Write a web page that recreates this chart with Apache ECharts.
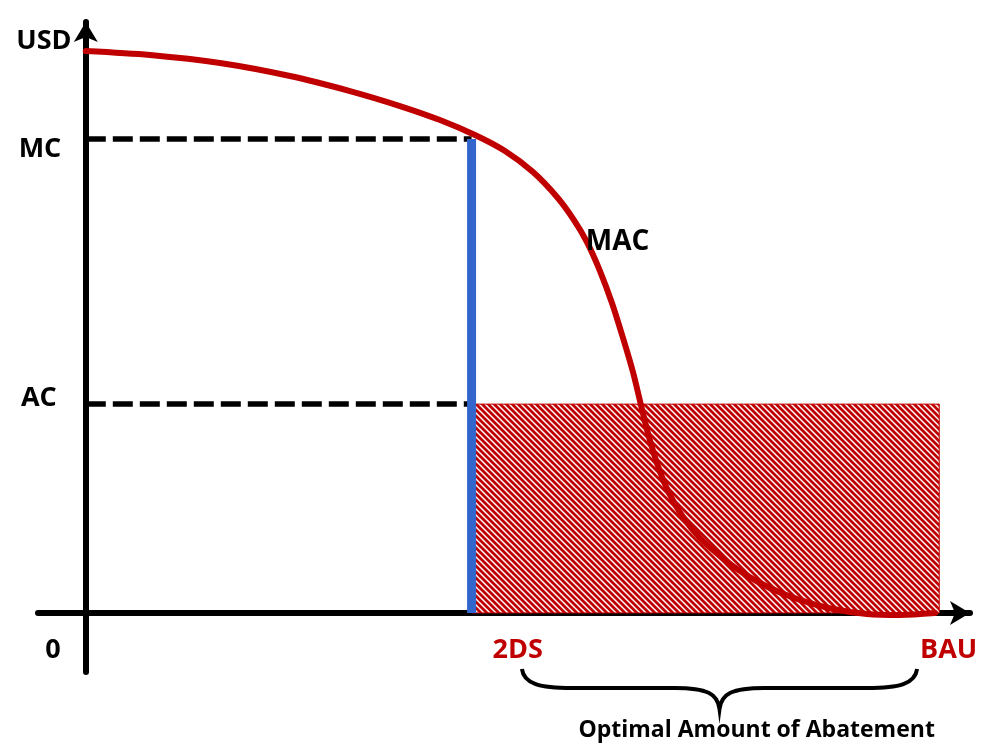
<!DOCTYPE html>
<html>
<head>
<meta charset="utf-8">
<script src="https://cdn.jsdelivr.net/npm/echarts@6/dist/echarts.min.js"></script>
<style>
html,body{margin:0;padding:0;background:#fff;}
#chart{width:982px;height:744px;}
</style>
</head>
<body>
<div id="chart"></div>
<script>
// ---- data ----
const macX = [0, 7.52, 15.72, 23.93, 30.95, 36.81, 41.50, 45.60, 49.12, 52.40, 55.21, 57.20, 58.72, 60.25, 61.65, 62.94, 64.11, 65.05, 65.99, 67.04, 68.33, 69.97, 71.96, 74.31, 77.00, 80.16, 83.68, 87.55, 91.53, 95.40, 99.50];
const macY = [99.84, 99.13, 97.71, 95.40, 92.73, 90.07, 87.58, 84.91, 82.07, 78.34, 73.90, 69.81, 65.90, 60.75, 55.06, 48.85, 42.80, 36.94, 31.25, 26.10, 21.30, 17.04, 13.31, 10.11, 7.09, 4.42, 2.29, 0.69, -0.20, -0.37, -0.02];
const twoDS = 45.2;      // abatement level at 2DS
const bau = 100;         // business-as-usual
const mcLevel = 84.2;    // marginal cost
const acLevel = 37.1;    // average cost
const axisLabels = ['USD', 'MC', 'AC', '0'];
const xLabels = ['2DS', 'BAU'];
const curveName = 'MAC';
const braceText = 'Optimal Amount of Abatement';

const RED = '#c00000', BLUE = '#3366cc', FONT = '"Open Sans", "DejaVu Sans", sans-serif';

// hatch pattern
const pc = document.createElement('canvas');
pc.width = 6; pc.height = 6;
const g = pc.getContext('2d');
g.fillStyle = '#ffffff'; g.fillRect(0, 0, 6, 6);
g.strokeStyle = RED; g.lineWidth = 2.8;
g.beginPath();
g.moveTo(-3, -3); g.lineTo(9, 9);
g.moveTo(-9, -3); g.lineTo(3, 9);
g.moveTo(3, -3); g.lineTo(15, 9);
g.stroke();

const chart = echarts.init(document.getElementById('chart'), null, {renderer: 'canvas'});

const labelStyle = (color, size) => ({show: true, position: [0, 0], align: 'center', verticalAlign: 'middle',
  formatter: '{b}', color: color, opacity: 1, textBorderWidth: 0, fontFamily: FONT, fontWeight: 'bold', fontSize: size});

const annotations = [
  {name: axisLabels[0], value: [-4.9, 101.6], label: labelStyle('#000', 27)},
  {name: axisLabels[1], value: [-5.37, 82.4], label: labelStyle('#000', 27)},
  {name: axisLabels[2], value: [-5.5, 38.2], label: labelStyle('#000', 27)},
  {name: axisLabels[3], value: [-3.84, -6.6], label: labelStyle('#000', 27)},
  {name: xLabels[0], value: [50.6, -6.6], label: labelStyle(RED, 27)},
  {name: xLabels[1], value: [101.1, -6.6], label: labelStyle(RED, 27)},
  {name: curveName, value: [62.3, 65.9], label: labelStyle('#000', 28)},
  {name: braceText, value: [78.6, -20.8], label: labelStyle('#000', 23)}
];

const axisCommon = {
  type: 'value',
  axisLine: {show: true, onZero: true, symbol: ['none', 'arrow'], symbolSize: [18, 20], lineStyle: {color: '#000', width: 6}},
  axisTick: {show: false}, axisLabel: {show: false}, splitLine: {show: false}
};

chart.setOption({
  animation: false,
  grid: {left: 38, right: 12, top: 22, bottom: 72},
  xAxis: Object.assign({}, axisCommon, {min: -5.6, max: 103.6}),
  yAxis: Object.assign({}, axisCommon, {min: -10.5, max: 105}),
  series: [
    {
      type: 'custom', name: 'area', z: 1, clip: false,
      data: [[twoDS, 0, bau, acLevel]],
      renderItem: function (params, api) {
        const p0 = api.coord([api.value(0), api.value(3)]);
        const p1 = api.coord([api.value(2), api.value(1)]);
        return {type: 'rect', shape: {x: p0[0], y: p0[1], width: p1[0] - p0[0], height: p1[1] - p0[1]},
          style: {fill: {image: pc, repeat: 'repeat'}, stroke: RED, lineWidth: 1}};
      }
    },
    {type: 'line', name: 'mcDash', z: 2, symbol: 'none', data: [[0, mcLevel], [twoDS, mcLevel]],
      lineStyle: {color: '#000', width: 5.5, type: [20, 7]}},
    {type: 'line', name: 'acDash', z: 2, symbol: 'none', data: [[0, acLevel], [twoDS, acLevel]],
      lineStyle: {color: '#000', width: 5.5, type: [20, 7]}},
    {type: 'line', name: 'twoDS', z: 3, symbol: 'none', data: [[twoDS, 0], [twoDS, mcLevel]],
      lineStyle: {color: BLUE, width: 9}},
    {type: 'line', name: 'MAC', z: 4, symbol: 'none', smooth: 0.3,
      data: macX.map((x, i) => [x, macY[i]]),
      lineStyle: {color: RED, width: 6, cap: 'round', join: 'round'}},
    {type: 'scatter', name: 'labels', z: 6, clip: false, symbolSize: 0, itemStyle: {opacity: 1},
      data: annotations, silent: true},
    {
      type: 'custom', name: 'brace', z: 5, clip: false,
      data: [[51.1, 97.4]],
      renderItem: function (params, api) {
        const a = api.coord([api.value(0), 0]);
        const b = api.coord([api.value(1), 0]);
        const tipY = a[1] + 56, hY = a[1] + 75, pY = a[1] + 96;
        const L = a[0], R = b[0], M = (L + R) / 2;
        const d = 'M' + L + ' ' + tipY +
          ' C' + (L + 2) + ' ' + (hY - 4) + ' ' + (L + 18) + ' ' + hY + ' ' + (L + 50) + ' ' + hY +
          ' L' + (M - 45) + ' ' + hY +
          ' C' + (M - 12) + ' ' + hY + ' ' + (M - 2) + ' ' + (hY + 6) + ' ' + M + ' ' + pY +
          ' C' + (M + 2) + ' ' + (hY + 6) + ' ' + (M + 12) + ' ' + hY + ' ' + (M + 45) + ' ' + hY +
          ' L' + (R - 50) + ' ' + hY +
          ' C' + (R - 18) + ' ' + hY + ' ' + (R - 2) + ' ' + (hY - 4) + ' ' + R + ' ' + tipY;
        return {type: 'path', shape: {pathData: d}, style: {fill: null, stroke: '#000', lineWidth: 4}};
      }
    }
  ]
});
</script>
</body>
</html>
